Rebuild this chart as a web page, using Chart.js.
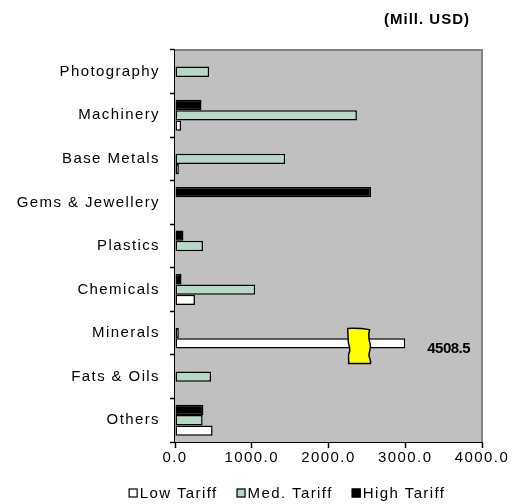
<!DOCTYPE html>
<html>
<head>
<meta charset="utf-8">
<script src="https://cdn.jsdelivr.net/npm/chart.js@4/dist/chart.umd.min.js"></script>
<style>
  html, body { margin: 0; padding: 0; background: #ffffff; }
  #wrap { width: 514px; height: 504px; }
</style>
</head>
<body>
<div id="wrap"><canvas id="chart" width="514" height="504"></canvas></div>
<script>
// Trade by product group, split by tariff band (Mill. USD)
const categories = ['Photography', 'Machinery', 'Base Metals', 'Gems & Jewellery', 'Plastics', 'Chemicals', 'Minerals', 'Fats & Oils', 'Others'];
const lowTariff  = [0, 80, 50, 0, 0, 260, 4508.5, 0, 490];
const medTariff  = [445, 2370, 1435, 0, 365, 1045, 50, 470, 360];
const highTariff = [0, 345, 0, 2555, 110, 85, 0, 0, 370];
const xTickValues = [0, 1000, 2000, 3000, 4000];
const seriesNames = ['Low Tariff', 'Med. Tariff', 'High Tariff'];
const unitLabel = '(Mill. USD)';

// Values beyond this point are drawn with a broken bar
const AXIS_BREAK = 3000;
const BREAK_MARK_FROM = 2250, BREAK_MARK_TO = 2560;

const FONT = '"Liberation Sans", Arial, Helvetica, sans-serif';
const MED_GREEN = '#B5D9C6';
const PLOT_GRAY = '#C0C0C0';

const clipBroken = v => (v > AXIS_BREAK ? AXIS_BREAK : v);

Chart.defaults.font.family = FONT;
Chart.defaults.font.size = 15;
Chart.defaults.color = '#000000';

const spacingPlugin = {
  id: 'spacing',
  beforeUpdate(chart) { chart.ctx.letterSpacing = '1.4px'; },
  beforeDraw(chart) { chart.ctx.letterSpacing = '1.4px'; }
};

const plotPlugin = {
  id: 'plotDecor',
  beforeDatasetsDraw(chart) {
    const { ctx, chartArea: a } = chart;
    ctx.save();
    ctx.fillStyle = PLOT_GRAY;
    ctx.fillRect(a.left, a.top, a.right - a.left, a.bottom - a.top);
    ctx.strokeStyle = '#808080';
    ctx.lineWidth = 2;
    ctx.beginPath();
    ctx.moveTo(a.left, a.top);
    ctx.lineTo(a.right, a.top);
    ctx.lineTo(a.right, a.bottom);
    ctx.stroke();
    ctx.restore();
  },
  afterDraw(chart) {
    const { ctx, chartArea: a, scales } = chart;
    ctx.save();

    // unit caption
    ctx.letterSpacing = '1px';
    ctx.font = 'bold 15px ' + FONT;
    ctx.fillStyle = '#000';
    ctx.textAlign = 'right';
    ctx.textBaseline = 'middle';
    ctx.fillText(unitLabel, a.right - 12, 20);

    // broken bars: break mark + true value
    const lowMeta = chart.getDatasetMeta(2);
    lowTariff.forEach((v, i) => {
      if (v <= AXIS_BREAK) return;
      const el = lowMeta.data[i];
      const x0 = scales.x.getPixelForValue(BREAK_MARK_FROM);
      const x1 = scales.x.getPixelForValue(BREAK_MARK_TO);
      const w = x1 - x0, h = 35;
      const y0 = el.y - 15;
      ctx.beginPath();
      ctx.moveTo(x0, y0);
      ctx.quadraticCurveTo(x0 + w * 0.5, y0 - 0.5, x0 + w * 0.92, y0 + 1.2);
      ctx.bezierCurveTo(x0 + w * 0.84, y0 + 8, x0 + w * 0.9, y0 + 12, x0 + w * 0.95, y0 + 16);
      ctx.bezierCurveTo(x0 + w * 1.0, y0 + 21, x0 + w * 0.86, y0 + 24, x0 + w * 0.9, y0 + 28);
      ctx.bezierCurveTo(x0 + w * 0.95, y0 + 31, x0 + w * 0.98, y0 + 33, x0 + w * 0.96, y0 + h);
      ctx.lineTo(x0 + 1, y0 + h);
      ctx.bezierCurveTo(x0 + 1.5, y0 + 30, x0 - 0.5, y0 + 27, x0 + 2, y0 + 23);
      ctx.bezierCurveTo(x0 + 3, y0 + 20, x0 + 0.5, y0 + 16, x0 + 0.5, y0 + 12);
      ctx.bezierCurveTo(x0 + 0.5, y0 + 8, x0, y0 + 4, x0, y0);
      ctx.closePath();
      ctx.fillStyle = '#FFFF00';
      ctx.fill();
      ctx.lineWidth = 1.5;
      ctx.strokeStyle = '#000';
      ctx.stroke();

      ctx.letterSpacing = '-0.5px';
      ctx.font = 'bold 15px ' + FONT;
      ctx.textAlign = 'left';
      ctx.textBaseline = 'middle';
      ctx.fillStyle = '#000';
      ctx.fillText(String(v), el.x + 22, el.y + 5);
    });

    // legend
    ctx.letterSpacing = '1.4px';
    ctx.font = '15px ' + FONT;
    ctx.textAlign = 'left';
    ctx.textBaseline = 'middle';
    const box = 9, boxGap = 2, itemGap = 19;
    const fills = ['#FFFFFF', MED_GREEN, '#000000'];
    const widths = seriesNames.map(t => ctx.measureText(t).width);
    const total = widths.reduce((s, w) => s + box + boxGap + w, 0) + itemGap * (seriesNames.length - 1);
    let x = 287 - total / 2;
    const cy = 493;
    seriesNames.forEach((t, i) => {
      ctx.fillStyle = fills[i];
      ctx.fillRect(x, cy - box / 2, box, box);
      ctx.lineWidth = 1.2;
      ctx.strokeStyle = '#000';
      ctx.strokeRect(x + 0.5, cy - box / 2 + 0.5, box - 1, box - 1);
      ctx.fillStyle = '#000';
      ctx.fillText(t, x + box + boxGap, cy + 1);
      x += box + boxGap + widths[i] + itemGap;
    });
    ctx.restore();
  }
};

const barStyle = { borderColor: '#000000', borderWidth: 1.5, borderSkipped: false, categoryPercentage: 0.71, barPercentage: 1.0 };

new Chart(document.getElementById('chart'), {
  type: 'bar',
  data: {
    labels: categories,
    datasets: [
      Object.assign({ label: seriesNames[2], data: highTariff, backgroundColor: '#000000' }, barStyle),
      Object.assign({ label: seriesNames[1], data: medTariff, backgroundColor: MED_GREEN }, barStyle),
      Object.assign({ label: seriesNames[0], data: lowTariff.map(clipBroken), backgroundColor: '#FFFFFF' }, barStyle)
    ]
  },
  options: {
    indexAxis: 'y',
    responsive: false,
    animation: false,
    layout: { padding: { left: 0, right: 32, top: 50, bottom: 32 } },
    plugins: {
      legend: { display: false },
      title: { display: false },
      tooltip: { enabled: false }
    },
    scales: {
      x: {
        min: 0,
        max: 4000,
        afterBuildTicks: s => { s.ticks = xTickValues.map(v => ({ value: v })); },
        afterFit: s => { s.height = 30; },
        ticks: { padding: 1, callback: v => Number(v).toFixed(1), maxRotation: 0, autoSkip: false },
        grid: { drawOnChartArea: false, drawTicks: true, tickLength: 6, tickColor: '#000', tickWidth: 1.5 },
        border: { display: true, color: '#000', width: 2 }
      },
      y: {
        afterFit: s => { s.width = 175; },
        ticks: { padding: 10, autoSkip: false },
        grid: { drawOnChartArea: false, drawTicks: true, tickLength: 5, tickColor: '#000', tickWidth: 1.5, offset: true },
        border: { display: true, color: '#000', width: 2 }
      }
    }
  },
  plugins: [spacingPlugin, plotPlugin]
});
</script>
</body>
</html>
